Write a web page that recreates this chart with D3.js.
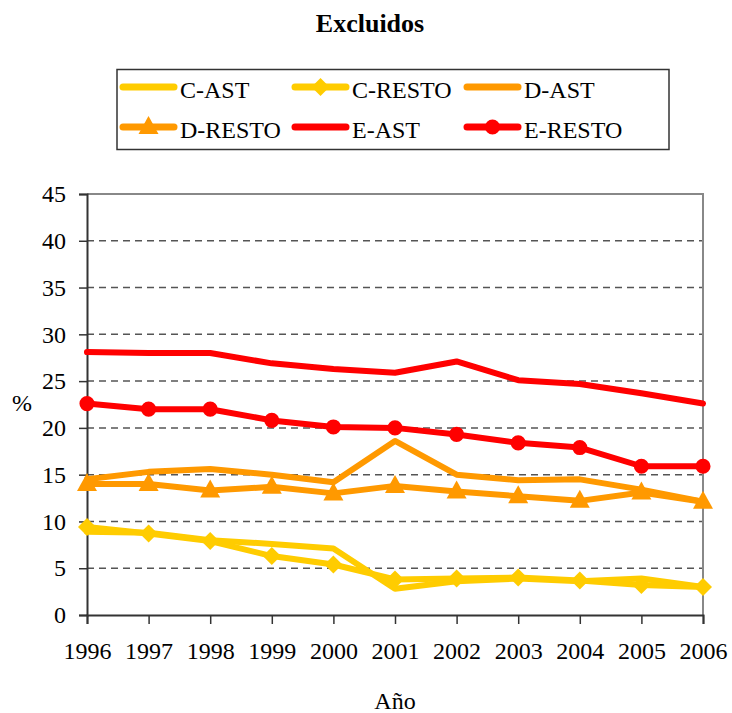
<!DOCTYPE html>
<html>
<head>
<meta charset="utf-8">
<script src="https://cdn.jsdelivr.net/npm/d3@7"></script>
<style>
  body { margin: 0; background: #fff; }
  svg { font-family: "Liberation Serif", "Times New Roman", serif; }
</style>
</head>
<body>
<div id="chart"></div>
<script>
var years = [1996, 1997, 1998, 1999, 2000, 2001, 2002, 2003, 2004, 2005, 2006];
var yTicks = [0, 5, 10, 15, 20, 25, 30, 35, 40, 45];

var cAst   = [8.9, 8.8, 8.0, 7.6, 7.1, 2.8, 3.6, 3.9, 3.6, 3.9, 3.0];
var cResto = [9.4, 8.7, 7.9, 6.3, 5.4, 3.8, 3.9, 4.0, 3.7, 3.2, 3.0];
var dAst   = [14.5, 15.3, 15.6, 15.0, 14.2, 18.6, 15.0, 14.4, 14.5, 13.4, 12.1];
var dResto = [14.0, 14.0, 13.3, 13.7, 13.0, 13.8, 13.2, 12.7, 12.2, 13.1, 12.1];
var eAst   = [28.1, 28.0, 28.0, 26.9, 26.3, 25.9, 27.1, 25.1, 24.7, 23.7, 22.6];
var eResto = [22.6, 22.0, 22.0, 20.8, 20.1, 20.0, 19.3, 18.4, 17.9, 15.9, 15.9];

var seriesNames = ["C-AST", "C-RESTO", "D-AST", "D-RESTO", "E-AST", "E-RESTO"];
var seriesValues = [cAst, cResto, dAst, dResto, eAst, eResto];
var seriesColors = ["#FFCC00", "#FFCC00", "#FF9900", "#FF9900", "#FF0000", "#FF0000"];
var seriesMarkers = [null, "diamond", null, "triangle", null, "circle"];

var width = 732;
var height = 713;
var margin = {left: 87, right: 29, top: 194, bottom: 98};

var svg = d3.select("#chart").append("svg")
    .attr("width", width)
    .attr("height", height);

var x = d3.scaleLinear()
    .domain([1996, 2006])
    .range([margin.left, width - margin.right]);

var y = d3.scaleLinear()
    .domain([0, 45])
    .range([height - margin.bottom, margin.top]);

/*****************  Title **********************/
svg.append("text")
    .attr("x", 370)
    .attr("y", 32)
    .attr("text-anchor", "middle")
    .style("font-size", "26px")
    .style("font-weight", "bold")
    .text("Excluidos");

/*****************  Grid **********************/
svg.append("g")
    .selectAll("line")
    .data(yTicks.filter(function (d) { return d > 0 && d < 45; }))
    .enter()
    .append("line")
    .attr("x1", x(1996))
    .attr("x2", x(2006))
    .attr("y1", function (d) { return y(d); })
    .attr("y2", function (d) { return y(d); })
    .style("stroke", "#555")
    .style("stroke-width", 1.5)
    .style("stroke-dasharray", "7,5");

// plot area frame top/right (gray)
svg.append("path")
    .attr("d", "M" + x(1996) + "," + y(45) + "H" + x(2006) + "V" + y(0))
    .style("fill", "none")
    .style("stroke", "#888")
    .style("stroke-width", 2);

/*****************  Axes **********************/
var yAxis = d3.axisLeft(y)
    .tickValues(yTicks)
    .tickSize(8)
    .tickPadding(13)
    .tickFormat(d3.format("d"));

var xAxis = d3.axisBottom(x)
    .tickValues(years)
    .tickSize(9)
    .tickPadding(18)
    .tickFormat(d3.format("d"));

var gy = svg.append("g")
    .attr("transform", "translate(" + x(1996) + ",0)")
    .call(yAxis);

var gx = svg.append("g")
    .attr("transform", "translate(0," + y(0) + ")")
    .call(xAxis);

[gx, gy].forEach(function (g) {
    g.select(".domain").style("stroke", "#333").style("stroke-width", 2);
    g.selectAll(".tick line").style("stroke", "#333").style("stroke-width", 1.5);
    g.selectAll(".tick text")
        .style("font-family", "'Liberation Serif', 'Times New Roman', serif")
        .style("font-size", "24px")
        .style("fill", "#000");
});

svg.append("text")
    .attr("x", 22)
    .attr("y", 411)
    .attr("text-anchor", "middle")
    .style("font-size", "24px")
    .text("%");

svg.append("text")
    .attr("x", 395)
    .attr("y", 709)
    .attr("text-anchor", "middle")
    .style("font-size", "24px")
    .text("Año");

/*****************  Series **********************/
var line = d3.line()
    .x(function (d, i) { return x(years[i]); })
    .y(function (d) { return y(d); });

function markerPath(type) {
    if (type == "diamond") {
        return "M0,-9L9,0L0,9L-9,0Z";
    } else if (type == "triangle") {
        return "M0,-11L10,7L-10,7Z";
    }
    return d3.symbol().type(d3.symbolCircle).size(180)();
}

seriesValues.forEach(function (vals, s) {
    svg.append("path")
        .datum(vals)
        .attr("d", line)
        .style("fill", "none")
        .style("stroke", seriesColors[s])
        .style("stroke-width", 6)
        .style("stroke-linejoin", "round")
        .style("stroke-linecap", "round");

    if (seriesMarkers[s]) {
        svg.append("g")
            .selectAll("path")
            .data(vals)
            .enter()
            .append("path")
            .attr("transform", function (d, i) {
                return "translate(" + x(years[i]) + "," + y(d) + ")";
            })
            .attr("d", markerPath(seriesMarkers[s]))
            .style("fill", seriesColors[s]);
    }
});

/*****************  Legend **********************/
var legendX = [123, 295, 467];
var legendY = [87, 127];

svg.append("rect")
    .attr("x", 117)
    .attr("y", 69.5)
    .attr("width", 552)
    .attr("height", 80)
    .style("fill", "none")
    .style("stroke", "#333")
    .style("stroke-width", 1.5);

var legend = svg.append("g")
    .selectAll("g")
    .data(seriesNames)
    .enter()
    .append("g")
    .attr("transform", function (d, i) {
        return "translate(" + legendX[i % 3] + "," + legendY[Math.floor(i / 3)] + ")";
    });

legend.append("line")
    .attr("x1", 0)
    .attr("x2", 51)
    .style("stroke", function (d, i) { return seriesColors[i]; })
    .style("stroke-width", 7)
    .style("stroke-linecap", "round");

legend.filter(function (d, i) { return seriesMarkers[i] != null; })
    .append("path")
    .attr("transform", "translate(25.5,0)")
    .attr("d", function (d) { return markerPath(seriesMarkers[seriesNames.indexOf(d)]); })
    .style("fill", function (d) { return seriesColors[seriesNames.indexOf(d)]; });

legend.append("text")
    .attr("x", 57)
    .attr("y", 11)
    .style("font-size", "24px")
    .text(function (d) { return d; });
</script>
</body>
</html>
